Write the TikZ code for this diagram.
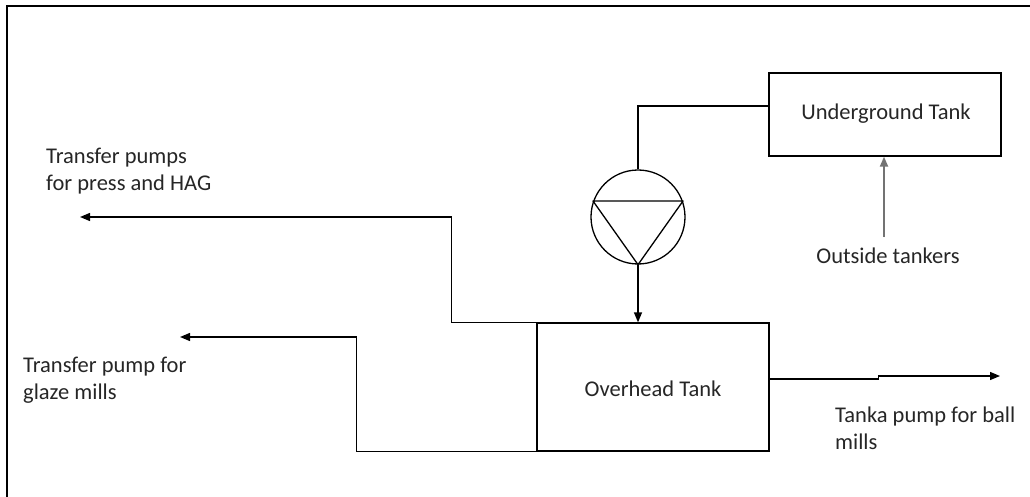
\documentclass[tikz,border=0pt]{standalone}
\usepackage{fontspec}
\setmainfont{Carlito}
\usetikzlibrary{arrows.meta,calc}
\tikzset{
  tank/.style={draw=black, line width=1.3pt, rectangle, inner sep=0pt},
  lbl/.style={text=black!85, font=\fontsize{22.5}{27}\selectfont, inner sep=0pt},
  lbll/.style={lbl, align=left, anchor=west},
  pipe/.style={draw=black, line width=1.3pt},
  flow/.style={pipe, -{Triangle[length=10pt,width=8pt]}},
}
\begin{document}
\begin{tikzpicture}[x=1pt,y=-1pt]
\useasboundingbox (0,0) rectangle (1030,497);
% frame
\draw[line width=2.8pt] (7,497) -- (7,6) -- (1030,6);
% tanks
\node[tank, minimum width=232pt, minimum height=83pt] (ug) at (885,114.5) {};
\node[lbl] (ugt) at (886,114) {Underground Tank};
\node[tank, minimum width=232pt, minimum height=128pt] (oh) at (653,387) {};
\node[lbl] (oht) at (653,389) {Overhead Tank};
% pump
\node[draw=black, line width=1.3pt, circle, minimum size=94pt, inner sep=0pt] (pump) at (638,217) {};
\draw[line width=1.3pt, line join=round] ($(pump.center)+(-45,-16)$) coordinate (ta) -- ($(pump.center)+(45,-16)$) coordinate (tb) -- (pump.south) -- cycle;
% labels
\node[lbl] (ott) at (888,256) {Outside tankers};
\node[lbll] (hagt) at (46,171) {Transfer pumps\\for press and HAG};
\node[lbll] (glt) at (23,380) {Transfer pump for\\glaze mills};
\node[lbll] (tkt) at (835,428) {Tanka pump for ball\\mills};
% free ends
\coordinate (hagEnd) at (80,217);
\coordinate (glEnd) at (180,337);
\coordinate (tkEnd) at (1000,376);
\coordinate (otStart) at (884,237);
% connectors
\draw[line width=2.3pt] (pump.north) |- ([yshift=8.5pt]ug.west);
\draw[flow] (pump.south) -- (pump.south |- oh.north);
\draw[flow] (oh.north west) -- ++(-85,0) |- (hagEnd);
\draw[flow] (oh.south west) -- ++(-180,0) |- (glEnd);
\draw[flow] ([yshift=8pt]oh.east) -- ++(109,0) -- ++(0,-3) -- (tkEnd);
\draw[flow, draw=black!55, fill=black, line width=2pt] (otStart) -- (ug.south -| otStart);
\end{tikzpicture}
\end{document}
